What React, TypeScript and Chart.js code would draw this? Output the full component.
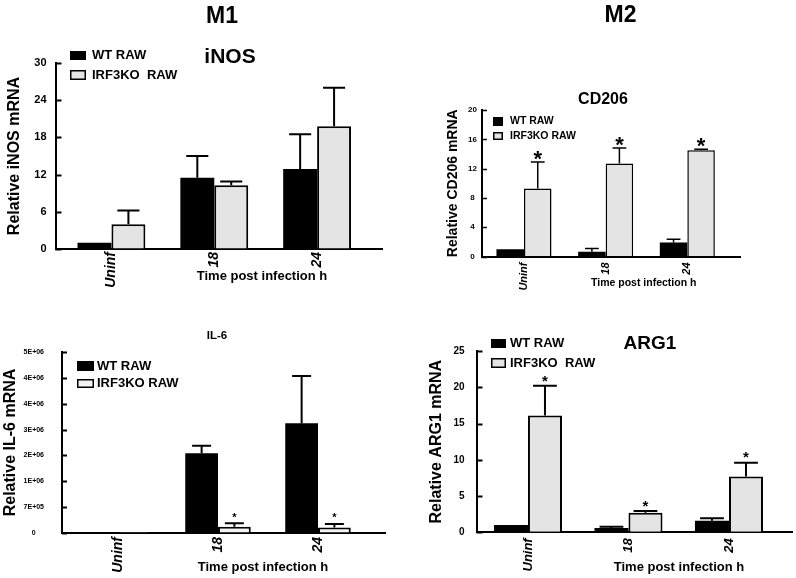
import React, { useEffect, useRef } from "react";
import { Chart, registerables } from "chart.js";

Chart.register(...registerables);

const FONT = '"Liberation Sans", Arial, Helvetica, sans-serif';
Chart.defaults.font.family = FONT;
Chart.defaults.color = "#000";

// ---------- data ----------
const categories = ["Uninf", "18", "24"];
const namesA = ["WT RAW", "IRF3KO  RAW"];
const namesB = ["WT RAW", "IRF3KO RAW"];

// iNOS (M1)
const inosWT = [1.0, 11.5, 12.9];
const inosWTsd = [0, 3.5, 5.6];
const inosKO = [4.0, 10.3, 19.8];
const inosKOsd = [2.2, 0.6, 6.2];
const inosTicks = [0, 6, 12, 18, 24, 30];
const inosSig = [false, false, false];

// CD206 (M2)
const cd206WT = [1.0, 0.65, 1.9];
const cd206WTsd = [0, 0.45, 0.45];
const cd206KO = [9.3, 12.7, 14.5];
const cd206KOsd = [3.6, 2.1, 0.15];
const cd206Ticks = [0, 4, 8, 12, 16, 20];
const cd206Sig = [true, true, true];

// IL-6 (M1)
const il6WT = [1, 2200000, 3030000];
const il6WTsd = [0, 210000, 1310000];
const il6KO = [1, 175000, 150000];
const il6KOsd = [0, 95000, 100000];
const il6Ticks = [0, 714286, 1428571, 2142857, 2857143, 3571429, 4285714, 5000000];
const il6TickLabels = ["0", "7E+05", "1E+06", "2E+06", "3E+06", "4E+06", "4E+06", "5E+06"];
const il6Sig = [false, true, true];

// ARG1 (M2)
const arg1WT = [1.0, 0.6, 1.6];
const arg1WTsd = [0, 0.15, 0.33];
const arg1KO = [16.1, 2.7, 7.7];
const arg1KOsd = [4.1, 0.24, 1.9];
const arg1Ticks = [0, 5, 10, 15, 20, 25];
const arg1Sig = [true, true, true];

// ---------- panel layout ----------
type Txt = { text: string; x: number; y: number; size: number };
type Panel = {
  id: string;
  header?: Txt;
  title: Txt;
  xTitle: Txt;
  yTitle: { text: string; cx: number; size: number };
  area: { l: number; t: number; r: number; b: number };
  xMin: number;
  xMax: number;
  catPct: number;
  yTicks: number[];
  yTickLabels?: string[];
  yTickSize: number;
  yTickPad: number;
  yCross: "near" | "center" | "far";
  xTickSize: number;
  xTickPad: number;
  legend: { boxX: number; boxW: number; rows: number[][]; textX: number; size: number };
  names: string[];
  wt: number[];
  wtSd: number[];
  ko: number[];
  koSd: number[];
  sig: boolean[];
  koColor: string;
  tickLen: number;
  lineW: number;
  capRatio: number;
  barBorder: number;
  starSize: number;
  starGap: number;
};

const panels: Panel[] = [
  {
    id: "inos",
    header: { text: "M1", x: 222, y: 17, size: 23 },
    title: { text: "iNOS", x: 230, y: 57, size: 21 },
    xTitle: { text: "Time post infection h", x: 262, y: 276, size: 13 },
    yTitle: { text: "Relative iNOS mRNA", cx: 15, size: 16 },
    area: { l: 55.5, t: 63, r: 382, b: 249 },
    xMin: -0.544,
    xMax: 2.631,
    catPct: 0.66,
    yTicks: inosTicks,
    yTickSize: 11,
    yTickPad: 9,
    yCross: "near",
    xTickSize: 14,
    xTickPad: 3,
    legend: { boxX: 70, boxW: 16, rows: [[51, 60], [70, 80]], textX: 92, size: 13 },
    names: namesA,
    wt: inosWT,
    wtSd: inosWTsd,
    ko: inosKO,
    koSd: inosKOsd,
    sig: inosSig,
    koColor: "#e4e4e4",
    tickLen: 6,
    lineW: 2,
    capRatio: 0.65,
    barBorder: 2,
    starSize: 16,
    starGap: 9,
  },
  {
    id: "cd206",
    header: { text: "M2", x: 620.5, y: 16, size: 23 },
    title: { text: "CD206", x: 603, y: 100, size: 16 },
    xTitle: { text: "Time post infection h", x: 643.7, y: 283.3, size: 10.5 },
    yTitle: { text: "Relative CD206 mRNA", cx: 453, size: 14 },
    area: { l: 482, t: 110, r: 740, b: 256.5 },
    xMin: -0.514,
    xMax: 2.645,
    catPct: 0.674,
    yTicks: cd206Ticks,
    yTickSize: 8,
    yTickPad: 5,
    yCross: "center",
    xTickSize: 11,
    xTickPad: 6,
    legend: { boxX: 493, boxW: 10, rows: [[117, 126], [132, 140]], textX: 510, size: 10.5 },
    names: namesB,
    wt: cd206WT,
    wtSd: cd206WTsd,
    ko: cd206KO,
    koSd: cd206KOsd,
    sig: cd206Sig,
    koColor: "#e4e4e4",
    tickLen: 5,
    lineW: 1.5,
    capRatio: 0.5,
    barBorder: 1.5,
    starSize: 22,
    starGap: 9,
  },
  {
    id: "il6",
    title: { text: "IL-6", x: 217, y: 336, size: 11.5 },
    xTitle: { text: "Time post infection h", x: 263, y: 567, size: 13 },
    yTitle: { text: "Relative IL-6 mRNA", cx: 11, size: 16 },
    area: { l: 62, t: 352, r: 385, b: 533 },
    xMin: -0.56,
    xMax: 2.67,
    catPct: 0.655,
    yTicks: il6Ticks,
    yTickLabels: il6TickLabels,
    yTickSize: 7,
    yTickPad: 18,
    yCross: "center",
    xTickSize: 14,
    xTickPad: 4,
    legend: { boxX: 77, boxW: 17, rows: [[361, 371], [379, 388]], textX: 97, size: 13 },
    names: namesB,
    wt: il6WT,
    wtSd: il6WTsd,
    ko: il6KO,
    koSd: il6KOsd,
    sig: il6Sig,
    koColor: "#f3f3f3",
    tickLen: 5,
    lineW: 2,
    capRatio: 0.58,
    barBorder: 2,
    starSize: 11,
    starGap: 9,
  },
  {
    id: "arg1",
    title: { text: "ARG1", x: 650, y: 344, size: 19 },
    xTitle: { text: "Time post infection h", x: 679, y: 567, size: 13 },
    yTitle: { text: "Relative ARG1 mRNA", cx: 437, size: 16 },
    area: { l: 476.5, t: 351, r: 792, b: 532.3 },
    xMin: -0.512,
    xMax: 2.627,
    catPct: 0.677,
    yTicks: arg1Ticks,
    yTickSize: 10,
    yTickPad: 12,
    yCross: "near",
    xTickSize: 13,
    xTickPad: 6,
    legend: { boxX: 491, boxW: 15, rows: [[339, 348], [358, 368]], textX: 510, size: 13 },
    names: namesA,
    wt: arg1WT,
    wtSd: arg1WTsd,
    ko: arg1KO,
    koSd: arg1KOsd,
    sig: arg1Sig,
    koColor: "#e4e4e4",
    tickLen: 6,
    lineW: 2,
    capRatio: 0.7,
    barBorder: 2,
    starSize: 15,
    starGap: 9,
  },
];

const W = 796;
const H = 578;

function drawText(ctx: CanvasRenderingContext2D, t: Txt, align: CanvasTextAlign = "center") {
  ctx.font = `bold ${t.size}px ${FONT}`;
  ctx.fillStyle = "#000";
  ctx.textAlign = align;
  ctx.textBaseline = "middle";
  ctx.fillText(t.text, t.x, t.y);
}

function makeDecor(p: Panel) {
  return {
    id: "decor_" + p.id,
    afterDraw(chart: any) {
      const ctx: CanvasRenderingContext2D = chart.ctx;
      const area = chart.chartArea;
      const ys = chart.scales.y;
      ctx.save();
      ctx.strokeStyle = "#000";
      ctx.lineWidth = p.lineW;
      ctx.lineCap = "butt";
      // inward tick marks on y axis
      p.yTicks.forEach((v) => {
        const y = Math.round(ys.getPixelForValue(v)) + 0.5;
        ctx.beginPath();
        ctx.moveTo(area.left, y);
        ctx.lineTo(area.left + p.tickLen, y);
        ctx.stroke();
      });
      // error bars + significance stars
      const vals = [p.wt, p.ko];
      const sds = [p.wtSd, p.koSd];
      chart.data.datasets.forEach((_ds: any, d: number) => {
        const meta = chart.getDatasetMeta(d);
        meta.data.forEach((bar: any, i: number) => {
          const sd = sds[d][i];
          const topPx = ys.getPixelForValue(vals[d][i] + sd);
          if (sd > 0) {
            const capW = bar.width * p.capRatio;
            ctx.beginPath();
            ctx.moveTo(bar.x, bar.y);
            ctx.lineTo(bar.x, topPx);
            ctx.moveTo(bar.x - capW / 2, topPx);
            ctx.lineTo(bar.x + capW / 2, topPx);
            ctx.stroke();
          }
          if (d === 1 && p.sig[i]) {
            ctx.font = `bold ${p.starSize}px ${FONT}`;
            ctx.fillStyle = "#000";
            ctx.textAlign = "center";
            ctx.textBaseline = "alphabetic";
            ctx.fillText("*", bar.x, topPx - p.starGap + 0.58 * p.starSize);
          }
        });
      });
      // titles
      if (p.header) drawText(ctx, p.header);
      drawText(ctx, p.title);
      drawText(ctx, p.xTitle);
      // legend
      const lg = p.legend;
      chart.data.datasets.forEach((ds: any, d: number) => {
        const [y0, y1] = lg.rows[d];
        ctx.fillStyle = ds.backgroundColor;
        ctx.fillRect(lg.boxX, y0, lg.boxW, y1 - y0);
        ctx.lineWidth = 1.5;
        ctx.strokeStyle = "#000";
        ctx.strokeRect(lg.boxX + 0.75, y0 + 0.75, lg.boxW - 1.5, y1 - y0 - 1.5);
        drawText(ctx, { text: ds.label, x: lg.textX, y: (y0 + y1) / 2, size: lg.size }, "left");
      });
      ctx.restore();
    },
  };
}

function makeConfig(p: Panel): any {
  const yTitleLeft = p.yTitle.cx - 0.6 * p.yTitle.size;
  return {
    type: "bar",
    data: {
      datasets: [
        {
          label: p.names[0],
          data: categories.map((_c, i) => ({ x: i, y: p.wt[i] })),
          backgroundColor: "#000",
          borderColor: "#000",
          borderWidth: 0,
        },
        {
          label: p.names[1],
          data: categories.map((_c, i) => ({ x: i, y: p.ko[i] })),
          backgroundColor: p.koColor,
          borderColor: "#000",
          borderWidth: p.barBorder,
          borderSkipped: "bottom",
        },
      ],
    },
    options: {
      responsive: false,
      animation: false,
      events: [],
      layout: {
        padding: { left: yTitleLeft, top: p.area.t, right: W - p.area.r, bottom: 0 },
      },
      datasets: { bar: { categoryPercentage: p.catPct, barPercentage: 1 } },
      plugins: {
        legend: { display: false },
        tooltip: { enabled: false },
        title: { display: false },
      },
      scales: {
        x: {
          type: "linear",
          bounds: "data",
          min: p.xMin,
          max: p.xMax,
          offset: false,
          grid: { display: true, drawOnChartArea: false, drawTicks: false },
          border: { display: true, color: "#000", width: 2 },
          ticks: {
            autoSkip: false,
            minRotation: 90,
            maxRotation: 90,
            padding: p.xTickPad,
            color: "#000",
            font: { size: p.xTickSize, weight: "bold", style: "italic" },
            callback: (v: number) => categories[Math.round(v)] ?? "",
          },
          afterBuildTicks: (axis: any) => {
            axis.ticks = categories.map((_c, i) => ({ value: i }));
          },
          afterFit: (scale: any) => {
            scale.height = H - p.area.b;
          },
        },
        y: {
          type: "linear",
          bounds: "data",
          min: p.yTicks[0],
          max: p.yTicks[p.yTicks.length - 1],
          grid: { display: true, drawOnChartArea: false, drawTicks: false },
          border: { display: true, color: "#000", width: 2 },
          ticks: {
            autoSkip: false,
            padding: p.yTickPad,
            crossAlign: p.yCross,
            color: "#000",
            font: { size: p.yTickSize, weight: "bold" },
            callback: (v: number, idx: number) =>
              p.yTickLabels ? p.yTickLabels[idx] : String(v),
          },
          afterBuildTicks: (axis: any) => {
            axis.ticks = p.yTicks.map((v) => ({ value: v }));
          },
          title: {
            display: true,
            text: p.yTitle.text,
            color: "#000",
            padding: 0,
            font: { size: p.yTitle.size, weight: "bold" },
          },
          afterFit: (scale: any) => {
            scale.width = p.area.l - yTitleLeft;
          },
        },
      },
    },
    plugins: [makeDecor(p)],
  };
}

function PanelChart({ p }: { p: Panel }) {
  const ref = useRef<HTMLCanvasElement>(null);
  useEffect(() => {
    if (!ref.current) return;
    const chart = new Chart(ref.current, makeConfig(p));
    return () => chart.destroy();
  }, [p]);
  return (
    <canvas
      ref={ref}
      width={W}
      height={H}
      style={{ position: "absolute", left: 0, top: 0, width: W, height: H }}
    />
  );
}

export default function App() {
  return (
    <div
      style={{
        position: "absolute",
        left: 0,
        top: 0,
        width: W,
        height: H,
        background: "#fff",
        overflow: "hidden",
      }}
    >
      {panels.map((p) => (
        <PanelChart key={p.id} p={p} />
      ))}
    </div>
  );
}
